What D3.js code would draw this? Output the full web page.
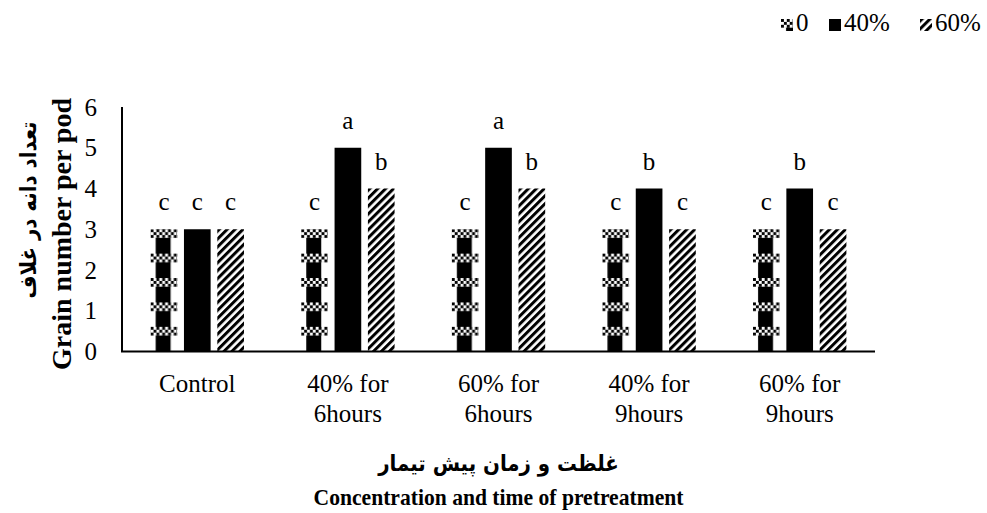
<!DOCTYPE html>
<html>
<head>
<meta charset="utf-8">
<script src="https://cdn.jsdelivr.net/npm/d3@7/dist/d3.min.js"></script>
<style>
  html, body { margin: 0; padding: 0; background: #fff; }
  svg { display: block; }
  text { font-family: "Liberation Serif", "Times New Roman", serif; fill: #000; }
  .fa { font-family: "DejaVu Sans", sans-serif; font-weight: bold; }
</style>
</head>
<body>
<svg id="chart" width="987" height="513"></svg>
<script>
// Treatments along the x axis (two-line labels)
const categories = ["Control", "40% for 6hours", "60% for 6hours", "40% for 9hours", "60% for 9hours"];
const categoryLines = [["Control"], ["40% for", "6hours"], ["60% for", "6hours"], ["40% for", "9hours"], ["60% for", "9hours"]];
// Series (legend entries)
const seriesNames = ["0", "40%", "60%"];
// Grain number per pod for each series
const values0  = [3, 3, 3, 3, 3];
const values40 = [3, 5, 5, 4, 4];
const values60 = [3, 4, 4, 3, 3];
// Mean-comparison letters shown above the bars
const letters0  = ["c", "c", "c", "c", "c"];
const letters40 = ["c", "a", "a", "b", "b"];
const letters60 = ["c", "b", "b", "c", "c"];
const yTicks = [0, 1, 2, 3, 4, 5, 6];

const seriesValues = [values0, values40, values60];
const seriesLetters = [letters0, letters40, letters60];

const svg = d3.select("#chart");
const margin = { left: 122, right: 112, top: 107, bottom: 162 };
const W = 987, H = 513;
const x0 = margin.left, x1 = W - margin.right;
const yTop = margin.top, yBot = H - margin.bottom + 0.5;

const x = d3.scaleBand().domain(categories).range([x0, x1]).paddingInner(0).paddingOuter(0);
const xs = d3.scaleBand().domain(seriesNames)
  .range([x.bandwidth() * 0.19, x.bandwidth() * 0.81]).paddingInner(0.2).paddingOuter(0);
const y = d3.scaleLinear().domain([0, 6]).range([yBot, yTop]);

const bw = xs.bandwidth();
const defs = svg.append("defs");

// small checkerboard used inside the "0" fill
const chk = defs.append("pattern").attr("id", "chk").attr("patternUnits", "userSpaceOnUse")
  .attr("width", 5.8).attr("height", 5.8);
chk.append("rect").attr("width", 5.8).attr("height", 5.8).attr("fill", "#fff");
chk.append("rect").attr("width", 2.9).attr("height", 2.9).attr("fill", "#000");
chk.append("rect").attr("x", 2.9).attr("y", 2.9).attr("width", 2.9).attr("height", 2.9).attr("fill", "#000");

// "0" fill: checker bands with a black column between them
const tileH = 24.4;
const pat0 = defs.append("pattern").attr("id", "pat0").attr("patternUnits", "userSpaceOnUse")
  .attr("width", bw).attr("height", tileH);
pat0.append("rect").attr("width", bw).attr("height", tileH).attr("fill", "#fff");
pat0.append("rect").attr("width", bw).attr("height", 8.7).attr("fill", "url(#chk)");
pat0.append("rect").attr("x", bw * 0.19).attr("y", 8.7).attr("width", bw * 0.56).attr("height", tileH - 8.7).attr("fill", "#000");

// "60%" fill: thick forward diagonal stripes
const pat60 = defs.append("pattern").attr("id", "pat60").attr("patternUnits", "userSpaceOnUse")
  .attr("width", 5.6).attr("height", 5.6).attr("patternTransform", "rotate(45)");
pat60.append("rect").attr("width", 5.6).attr("height", 5.6).attr("fill", "#fff");
pat60.append("rect").attr("width", 3).attr("height", 5.6).attr("fill", "#000");

const fills = ["url(#pat0)", "#000", "url(#pat60)"];

// Bars and letters
const groups = svg.append("g").selectAll("g").data(categories).join("g")
  .attr("transform", d => `translate(${x(d)},0)`);

seriesNames.forEach((s, si) => {
  groups.each(function (c, ci) {
    const v = seriesValues[si][ci];
    const g = d3.select(this).append("g")
      .attr("transform", `translate(${xs(s)},${y(v)})`);
    g.append("rect")
      .attr("x", 0).attr("y", 0)
      .attr("width", bw).attr("height", y(0) - y(v))
      .attr("fill", fills[si]);
    d3.select(this).append("text")
      .attr("x", xs(s) + bw / 2).attr("y", y(v) - 19)
      .attr("text-anchor", "middle").attr("font-size", 25)
      .text(seriesLetters[si][ci]);
  });
});

// Y axis (labels only, plain line)
const yAxis = d3.axisLeft(y).tickValues(yTicks).tickFormat(d3.format("d")).tickSize(0).tickPadding(25);
const gy = svg.append("g").attr("transform", `translate(${x0},0)`).call(yAxis);
gy.select(".domain").remove();
gy.selectAll("text").attr("font-size", 25).attr("font-family", "Liberation Serif").attr("fill", "#000");
svg.append("line").attr("x1", x0).attr("x2", x0).attr("y1", yTop).attr("y2", yBot)
  .attr("stroke", "#000").attr("stroke-width", 2);
svg.append("line").attr("x1", x0 - 1).attr("x2", x1).attr("y1", yBot).attr("y2", yBot)
  .attr("stroke", "#000").attr("stroke-width", 2);

// X axis labels
const xl = svg.append("g");
categories.forEach((c, i) => {
  const t = xl.append("text").attr("x", x(c) + x.bandwidth() / 2).attr("y", 392)
    .attr("text-anchor", "middle").attr("font-size", 25);
  categoryLines[i].forEach((ln, k) => {
    t.append("tspan").attr("x", x(c) + x.bandwidth() / 2).attr("dy", k === 0 ? 0 : 30).text(ln);
  });
});

// Axis titles (slightly condensed)
const cx = (x0 + x1) / 2;
svg.append("text").attr("class", "fa")
  .attr("transform", `translate(${cx},471) scale(0.9,1)`)
  .attr("text-anchor", "middle").attr("font-size", 22).attr("direction", "rtl")
  .text("غلظت و زمان پیش تیمار");
svg.append("text")
  .attr("transform", `translate(${cx},505) scale(0.9,1)`)
  .attr("text-anchor", "middle").attr("font-size", 24).attr("font-weight", "bold")
  .text("Concentration and time of pretreatment");

svg.append("text").attr("class", "fa")
  .attr("transform", `translate(36,210) rotate(-90) scale(0.9,1)`)
  .attr("text-anchor", "middle").attr("font-size", 22).attr("direction", "rtl")
  .text("تعداد دانه در غلاف");
svg.append("text")
  .attr("transform", `translate(71,234) rotate(-90)`)
  .attr("text-anchor", "middle").attr("font-size", 28).attr("font-weight", "bold")
  .text("Grain number per pod");

// Legend
const legendX = [781, 829, 920];
const lg = svg.append("g");
seriesNames.forEach((s, i) => {
  const sw = lg.append("g").attr("transform", `translate(${legendX[i]},19)`);
  sw.append("rect").attr("width", 12).attr("height", 12).attr("fill", fills[i]);
  lg.append("text").attr("x", legendX[i] + 15).attr("y", 31).attr("font-size", 25).text(s);
});
</script>
</body>
</html>
